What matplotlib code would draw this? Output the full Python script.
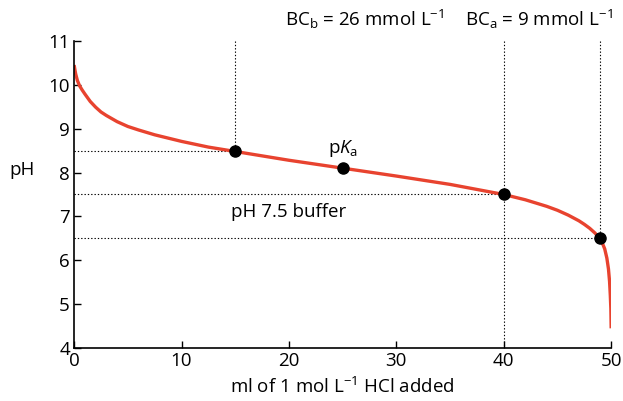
import numpy as np
import matplotlib
matplotlib.use("Agg")
import matplotlib.pyplot as plt

plt.rcParams['font.family'] = ['Open Sans', 'DejaVu Sans']
plt.rcParams['mathtext.fontset'] = 'custom'
plt.rcParams['mathtext.rm'] = 'Open Sans'
plt.rcParams['mathtext.it'] = 'Open Sans:italic'

# Titration curve
hcl_ml = [0, 0.08, 0.15, 0.3, 0.5, 0.75, 1, 1.5, 2, 2.5, 3, 4, 5, 6, 7.5, 10,
          12.5, 15, 20, 25, 30, 35, 40, 42, 44, 45, 46, 47, 47.5, 48, 48.5,
          49, 49.2, 49.4, 49.6, 49.75, 49.85, 49.92, 49.97, 50]
ph = [10.45, 10.33, 10.24, 10.1, 9.98, 9.88, 9.79, 9.62, 9.49, 9.38, 9.3,
      9.16, 9.05, 8.97, 8.86, 8.71, 8.58, 8.48, 8.28, 8.1, 7.92, 7.73, 7.5,
      7.38, 7.23, 7.14, 7.03, 6.9, 6.82, 6.73, 6.62, 6.47, 6.38, 6.26,
      6.05, 5.8, 5.52, 5.2, 4.9, 4.45]

# marked points
pt_x = [15, 25, 40, 49]
pt_y = [8.5, 8.1, 7.5, 6.5]

fig = plt.figure(figsize=(6.23, 4.01), dpi=100)
ax = fig.add_axes([0.119, 0.132, 0.862, 0.766])

# dotted guide lines
dot = dict(color='black', lw=0.8, dashes=(1.2, 1.8))
ax.plot([15, 15], [11, 8.5], **dot)
ax.plot([40, 40], [11, 4], **dot)
ax.plot([49, 49], [11, 6.5], **dot)
ax.plot([0, 15], [8.5, 8.5], **dot)
ax.plot([0, 40], [7.5, 7.5], **dot)
ax.plot([0, 49], [6.5, 6.5], **dot)

ax.plot(hcl_ml, ph, color='#e8432f', lw=2.4, solid_capstyle='butt',
        solid_joinstyle='round')
ax.plot(pt_x, pt_y, 'o', color='black', ms=8, zorder=5)

ax.set_xlim(0, 50)
ax.set_ylim(4, 11)
ax.set_xticks([0, 10, 20, 30, 40, 50])
ax.set_yticks([4, 5, 6, 7, 8, 9, 10, 11])
ax.tick_params(direction='in', length=5, width=1, labelsize=13.5, pad=3)
ax.spines['top'].set_visible(False)
ax.spines['right'].set_visible(False)
ax.spines['left'].set_linewidth(1.2)
ax.spines['bottom'].set_linewidth(1.2)

ax.set_xlabel('ml of 1 mol L$^{-1}$ HCl added', fontsize=13.5, labelpad=5)
ax.set_ylabel('pH', fontsize=13.5, rotation=0, va='center', ha='center')
ax.yaxis.set_label_coords(-0.097, 0.58)

ax.text(25, 8.32, 'p$K_\\mathrm{a}$', fontsize=13.5, ha='center', va='bottom')
ax.text(20, 7.1, 'pH 7.5 buffer', fontsize=13.5, ha='center', va='center')
ax.text(27, 11.48, 'BC$_\\mathrm{b}$ = 26 mmol L$^{-1}$', fontsize=13.5,
        ha='center', va='center', clip_on=False)
ax.text(43.3, 11.48, 'BC$_\\mathrm{a}$ = 9 mmol L$^{-1}$', fontsize=13.5,
        ha='center', va='center', clip_on=False)

fig.savefig('out.png', dpi=100)
